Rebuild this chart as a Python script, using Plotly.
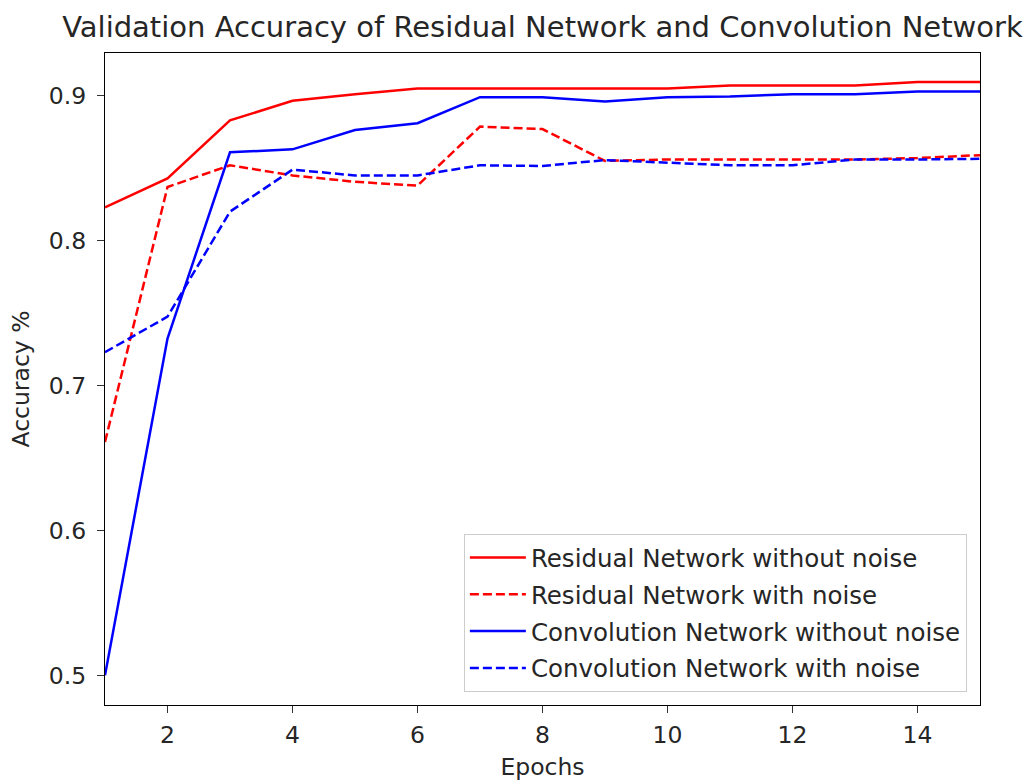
import plotly.graph_objects as go

epochs = list(range(1, 16))

resnet_clean = [0.823, 0.843, 0.883, 0.8965, 0.901, 0.905, 0.905, 0.905, 0.905, 0.905,
                0.907, 0.907, 0.907, 0.9095, 0.9095]
resnet_noisy = [0.661, 0.837, 0.852, 0.845, 0.8406, 0.838, 0.8787, 0.877, 0.855, 0.856,
                0.856, 0.856, 0.856, 0.857, 0.859]
convnet_clean = [0.500, 0.7324, 0.861, 0.863, 0.8764, 0.881, 0.899, 0.899, 0.896, 0.899,
                 0.8995, 0.901, 0.901, 0.903, 0.903]
convnet_noisy = [0.723, 0.7475, 0.820, 0.849, 0.845, 0.845, 0.852, 0.8515, 0.8556, 0.8538,
                 0.852, 0.852, 0.856, 0.856, 0.8565]

series = [
    ("Residual Network without noise", resnet_clean, "#ff0000", "solid"),
    ("Residual Network with noise", resnet_noisy, "#ff0000", "9px,4px"),
    ("Convolution Network without noise", convnet_clean, "#0000ff", "solid"),
    ("Convolution Network with noise", convnet_noisy, "#0000ff", "9px,4px"),
]

FONT = "DejaVu Sans"
TXT = "#262626"
BASE = 23.5

fig = go.Figure()
for i, (name, vals, color, dash) in enumerate(series):
    fig.add_trace(go.Scatter(
        x=epochs, y=vals, mode="lines", name=name, legendgroup=f"g{i}",
        line=dict(color=color, width=2.5, dash=dash),
    ))

axis_common = dict(
    showgrid=False, zeroline=False, showline=True, linecolor="black", linewidth=1.2,
    mirror=True, ticks="outside", ticklen=7, tickwidth=1.2, tickcolor="#333333",
    tickfont=dict(family=FONT, size=BASE, color=TXT), automargin=False,
)

fig.update_layout(
    width=1034, height=781,
    paper_bgcolor="white", plot_bgcolor="white",
    margin=dict(l=105, r=54, t=53, b=76),
    title=dict(
        text="Validation Accuracy of Residual Network and Convolution Network",
        x=0.5, xref="paper", xanchor="center", y=1 - 27 / 781, yanchor="middle",
        font=dict(family=FONT, size=29, color=TXT),
    ),
    xaxis=dict(
        range=[1, 15], tickvals=[2, 4, 6, 8, 10, 12, 14],
        ticklabelstandoff=2,
        title=dict(text="Epochs", font=dict(family=FONT, size=BASE, color=TXT), standoff=12),
        **axis_common,
    ),
    yaxis=dict(
        range=[0.4795, 0.9295], tickvals=[0.5, 0.6, 0.7, 0.8, 0.9],
        tickformat=".1f", ticklabelstandoff=6,
        title=dict(text="Accuracy %", font=dict(family=FONT, size=BASE, color=TXT), standoff=12),
        **axis_common,
    ),
    legend=dict(
        x=0.985, y=0.02, xanchor="right", yanchor="bottom",
        bgcolor="rgba(255,255,255,0.8)", bordercolor="#cccccc", borderwidth=1,
        font=dict(family=FONT, size=24.5, color=TXT),
        itemwidth=56, tracegroupgap=2,
    ),
    showlegend=True,
)

fig.write_html("out.html")
